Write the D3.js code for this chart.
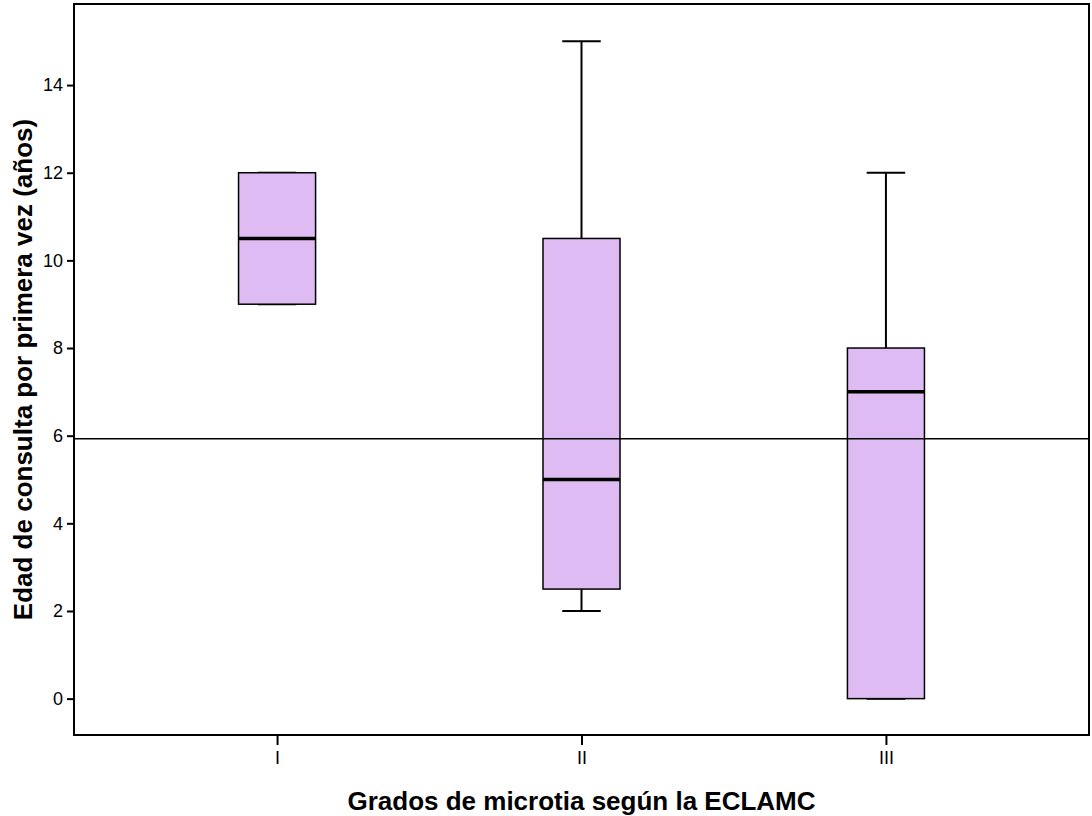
<!DOCTYPE html>
<html>
<head>
<meta charset="utf-8">
<script src="https://cdn.jsdelivr.net/npm/d3@7"></script>
<style>
  body { margin: 0; background: #fff; }
  text { font-family: "Liberation Sans", Arial, sans-serif; }
</style>
</head>
<body>
<div id="chart"></div>
<script>
// box plot data
var grades = ["I", "II", "III"];
var whiskerLow = [9, 2, 0];
var q1 = [9, 2.5, 0];
var medians = [10.5, 5, 7];
var q3 = [12, 10.5, 8];
var whiskerHigh = [12, 15, 12];
var yTicks = [0, 2, 4, 6, 8, 10, 12, 14];
var refLine = 5.93;

const chartWidth = 1092;
const chartHeight = 816;

const marginTop = 4;
const marginBottom = 81;
const marginLeft = 74;
const marginRight = 3;

const boxFill = "#debbf2";

var xScale = d3.scalePoint()
  .domain(grades)
  .range([marginLeft, chartWidth - marginRight])
  .padding(0.667);

var yScale = d3.scaleLinear()
  .domain([-0.83, 15.85])
  .range([chartHeight - marginBottom, marginTop]);

var boxWidth = xScale.step() * 0.253;
var capWidth = boxWidth / 2;

var svg = d3.select("#chart")
  .append("svg")
  .attr("width", chartWidth)
  .attr("height", chartHeight);

// plot frame
svg.append("rect")
  .attr("x", marginLeft)
  .attr("y", marginTop)
  .attr("width", chartWidth - marginRight - marginLeft)
  .attr("height", chartHeight - marginBottom - marginTop)
  .style("fill", "none")
  .style("stroke", "#000")
  .style("stroke-width", 2);

var boxes = svg.selectAll("g.box")
  .data(grades)
  .enter()
  .append("g")
  .attr("class", "box");

// whiskers
boxes.append("line")
  .attr("x1", function(d) { return xScale(d); })
  .attr("x2", function(d) { return xScale(d); })
  .attr("y1", function(d, i) { return yScale(whiskerHigh[i]); })
  .attr("y2", function(d, i) { return yScale(q3[i]); })
  .style("stroke", "#000").style("stroke-width", 2);

boxes.append("line")
  .attr("x1", function(d) { return xScale(d); })
  .attr("x2", function(d) { return xScale(d); })
  .attr("y1", function(d, i) { return yScale(q1[i]); })
  .attr("y2", function(d, i) { return yScale(whiskerLow[i]); })
  .style("stroke", "#000").style("stroke-width", 2);

// caps
boxes.append("line")
  .attr("x1", function(d) { return xScale(d) - capWidth / 2; })
  .attr("x2", function(d) { return xScale(d) + capWidth / 2; })
  .attr("y1", function(d, i) { return yScale(whiskerHigh[i]); })
  .attr("y2", function(d, i) { return yScale(whiskerHigh[i]); })
  .style("stroke", "#000").style("stroke-width", 2);

boxes.append("line")
  .attr("x1", function(d) { return xScale(d) - capWidth / 2; })
  .attr("x2", function(d) { return xScale(d) + capWidth / 2; })
  .attr("y1", function(d, i) { return yScale(whiskerLow[i]); })
  .attr("y2", function(d, i) { return yScale(whiskerLow[i]); })
  .style("stroke", "#000").style("stroke-width", 2);

// boxes
boxes.append("rect")
  .attr("x", function(d) { return xScale(d) - boxWidth / 2; })
  .attr("y", function(d, i) { return yScale(q3[i]); })
  .attr("width", boxWidth)
  .attr("height", function(d, i) { return yScale(q1[i]) - yScale(q3[i]); })
  .style("fill", boxFill)
  .style("stroke", "#000")
  .style("stroke-width", 1.5);

// medians
boxes.append("line")
  .attr("x1", function(d) { return xScale(d) - boxWidth / 2; })
  .attr("x2", function(d) { return xScale(d) + boxWidth / 2; })
  .attr("y1", function(d, i) { return yScale(medians[i]); })
  .attr("y2", function(d, i) { return yScale(medians[i]); })
  .style("stroke", "#000").style("stroke-width", 3.5);

// reference line
svg.append("line")
  .attr("x1", marginLeft)
  .attr("x2", chartWidth - marginRight)
  .attr("y1", yScale(refLine))
  .attr("y2", yScale(refLine))
  .style("stroke", "#000")
  .style("stroke-width", 1.5);

// axes
var yAxis = d3.axisLeft(yScale)
  .tickValues(yTicks)
  .tickSize(7)
  .tickPadding(4);

var gy = svg.append("g")
  .attr("transform", "translate(" + marginLeft + ",0)")
  .call(yAxis);
gy.select(".domain").remove();
gy.selectAll(".tick line").style("stroke-width", 2);
gy.selectAll("text").style("font-size", "18px").style("fill", "#000");

var xAxis = d3.axisBottom(xScale)
  .tickSize(10)
  .tickPadding(6);

var gx = svg.append("g")
  .attr("transform", "translate(0," + (chartHeight - marginBottom) + ")")
  .call(xAxis);
gx.select(".domain").remove();
gx.selectAll(".tick line").style("stroke-width", 2);
gx.selectAll("text").style("font-size", "18px").style("fill", "#000");

// axis titles
svg.append("text")
  .attr("x", (marginLeft + chartWidth - marginRight) / 2)
  .attr("y", 810)
  .style("text-anchor", "middle")
  .style("font-size", "26px")
  .style("font-weight", "bold")
  .text("Grados de microtia según la ECLAMC");

svg.append("text")
  .attr("transform", "translate(32," + ((marginTop + chartHeight - marginBottom) / 2) + ") rotate(-90)")
  .style("text-anchor", "middle")
  .style("font-size", "26px")
  .style("font-weight", "bold")
  .text("Edad de consulta por primera vez (años)");
</script>
</body>
</html>
